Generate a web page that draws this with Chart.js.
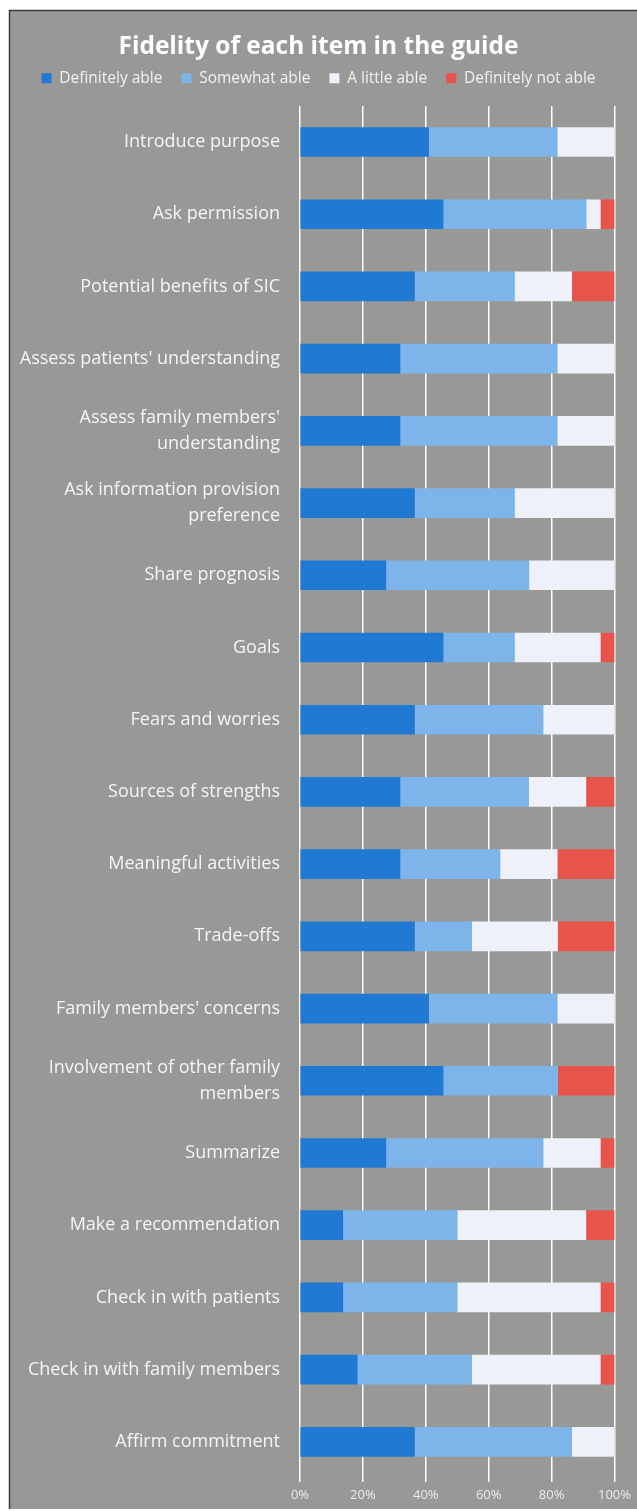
<!DOCTYPE html>
<html>
<head>
<meta charset="utf-8">
<script src="https://cdn.jsdelivr.net/npm/chart.js@4.4.1/dist/chart.umd.min.js"></script>
<style>
html,body{margin:0;padding:0;background:#fff;}
#wrap{width:637px;height:1511px;position:relative;}
</style>
</head>
<body>
<div id="wrap"><canvas id="c" width="637" height="1511"></canvas></div>
<script>
const categories = [
  "Introduce purpose",
  "Ask permission",
  "Potential benefits of SIC",
  "Assess patients' understanding",
  ["Assess family members'", "understanding"],
  ["Ask information provision", "preference"],
  "Share prognosis",
  "Goals",
  "Fears and worries",
  "Sources of strengths",
  "Meaningful activities",
  "Trade-offs",
  "Family members' concerns",
  ["Involvement of other family", "members"],
  "Summarize",
  "Make a recommendation",
  "Check in with patients",
  "Check in with family members",
  "Affirm commitment"
];
const definitelyAble    = [40.9, 45.5, 36.4, 31.8, 31.8, 36.4, 27.3, 45.5, 36.4, 31.8, 31.8, 36.4, 40.9, 45.5, 27.3, 13.6, 13.6, 18.2, 36.4];
const somewhatAble      = [40.9, 45.5, 31.8, 50.0, 50.0, 31.8, 45.5, 22.7, 40.9, 40.9, 31.8, 18.2, 40.9, 36.4, 50.0, 36.4, 36.4, 36.4, 50.0];
const aLittleAble       = [18.2, 4.5, 18.2, 18.2, 18.2, 31.8, 27.3, 27.3, 22.7, 18.2, 18.2, 27.3, 18.2, 0.0, 18.2, 40.9, 45.5, 40.9, 13.6];
const definitelyNotAble = [0.0, 4.5, 13.6, 0.0, 0.0, 0.0, 0.0, 4.5, 0.0, 9.1, 18.2, 18.2, 0.0, 18.2, 4.5, 9.1, 4.5, 4.5, 0.0];
const seriesNames = ["Definitely able", "Somewhat able", "A little able", "Definitely not able"];
const xTicks = [0, 20, 40, 60, 80, 100];

const FONT = "'Open Sans', 'DejaVu Sans', sans-serif";
const colors = ["#2079d3", "#7db5ea", "#eef1f9", "#e6544b"];

const bgPlugin = {
  id: 'bgPlugin',
  beforeDraw(chart) {
    const ctx = chart.ctx;
    ctx.save();
    ctx.fillStyle = '#ffffff';
    ctx.fillRect(0, 0, chart.width, chart.height);
    ctx.fillStyle = '#989897';
    ctx.fillRect(9, 10, chart.width - 9, 1499);
    ctx.strokeStyle = '#3a3a3a';
    ctx.lineWidth = 1.5;
    ctx.beginPath();
    ctx.moveTo(9.5, 1509);
    ctx.lineTo(9.5, 10.5);
    ctx.lineTo(chart.width, 10.5);
    ctx.stroke();
    ctx.restore();
  }
};

const legendMargin = {
  id: 'legendMargin',
  beforeInit(chart) {
    const lg = chart.legend;
    const orig = lg.fit;
    lg.fit = function() { orig.call(lg); lg.height += 10; };
  }
};

const datasets = [definitelyAble, somewhatAble, aLittleAble, definitelyNotAble].map((d, i) => ({
  label: seriesNames[i],
  data: d,
  backgroundColor: colors[i],
  borderWidth: 0,
  barThickness: 29
}));

new Chart(document.getElementById('c'), {
  type: 'bar',
  data: { labels: categories, datasets },
  plugins: [bgPlugin, legendMargin],
  options: {
    indexAxis: 'y',
    responsive: false,
    animation: false,
    layout: { padding: { top: 10, bottom: 0, left: 0, right: 0 } },
    plugins: {
      title: {
        display: true,
        text: 'Fidelity of each item in the guide',
        color: '#ffffff',
        font: { family: FONT, size: 24.5, weight: 'bold' },
        padding: { top: 22, bottom: -10 }
      },
      legend: {
        display: true,
        position: 'top',
        labels: {
          color: '#f2f2f2',
          font: { family: FONT, size: 15.5 },
          boxWidth: 10,
          boxHeight: 10,
          padding: 19
        }
      },
      tooltip: { enabled: false }
    },
    scales: {
      x: {
        stacked: true,
        min: 0,
        max: 100,
        afterBuildTicks: s => { s.ticks = xTicks.map(v => ({ value: v })); },
        ticks: {
          color: '#ececec',
          font: { family: FONT, size: 13 },
          padding: 6,
          callback: v => v + '%',
          maxRotation: 0
        },
        grid: { color: '#ffffff', lineWidth: 1.5, drawTicks: true, tickLength: 4 },
        border: { display: false }
      },
      y: {
        stacked: true,
        afterFit: s => { s.width = 300; },
        ticks: {
          color: '#f5f5f5',
          font: { family: FONT, size: 18, lineHeight: 1.45 },
          padding: 20
        },
        grid: { display: false, drawTicks: false },
        border: { display: false }
      },
      pad: {
        type: 'linear',
        position: 'right',
        display: true,
        afterFit: s => { s.width = 22; },
        ticks: { display: false },
        grid: { display: false, drawTicks: false },
        border: { display: false }
      }
    }
  }
});
</script>
</body>
</html>
